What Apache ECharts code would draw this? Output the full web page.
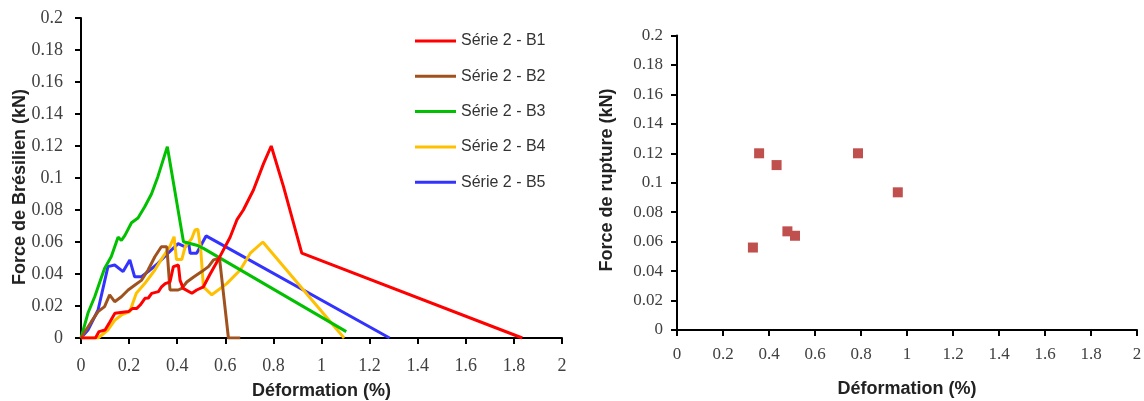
<!DOCTYPE html>
<html>
<head>
<meta charset="utf-8">
<script src="https://cdn.jsdelivr.net/npm/echarts@6/dist/echarts.min.js"></script>
<style>
html,body{margin:0;padding:0;background:#fff;}
#chart{width:1144px;height:401px;}
</style>
</head>
<body>
<div id="chart"></div>
<script>
// ---- Data ----
const seriesNames = ['Série 2 - B1','Série 2 - B2','Série 2 - B3','Série 2 - B4','Série 2 - B5'];
const b1X = [0,0.06,0.075,0.1,0.12,0.141,0.197,0.215,0.232,0.246,0.266,0.28,0.294,0.322,0.335,0.35,0.37,0.384,0.405,0.412,0.425,0.433,0.461,0.481,0.509,0.537,0.578,0.62,0.648,0.675,0.717,0.759,0.791,0.842,0.918,1.835];
const b1Y = [0,0,0.004,0.005,0.01,0.0154,0.0165,0.0185,0.0185,0.0206,0.0248,0.025,0.0279,0.029,0.032,0.034,0.035,0.0446,0.0456,0.036,0.031,0.03,0.028,0.03,0.032,0.04,0.051,0.063,0.0738,0.08,0.0925,0.109,0.12,0.0946,0.053,0];
const b2X = [0,0.043,0.071,0.098,0.119,0.14,0.168,0.196,0.223,0.251,0.279,0.307,0.334,0.357,0.37,0.404,0.419,0.44,0.467,0.502,0.53,0.551,0.576,0.613,0.662];
const b2Y = [0,0.0102,0.0165,0.0196,0.0269,0.0227,0.0258,0.03,0.033,0.036,0.0425,0.0508,0.057,0.057,0.03,0.03,0.031,0.035,0.038,0.0415,0.0446,0.0488,0.0498,0,0];
const b3X = [0,0.029,0.057,0.085,0.098,0.126,0.154,0.168,0.182,0.21,0.237,0.265,0.293,0.32,0.359,0.426,0.481,0.509,1.103];
const b3Y = [0,0.0156,0.0258,0.038,0.0435,0.051,0.063,0.061,0.064,0.072,0.075,0.082,0.09,0.101,0.1196,0.0602,0.058,0.056,0.004];
const b4X = [0,0.071,0.112,0.14,0.168,0.203,0.23,0.265,0.307,0.341,0.369,0.387,0.397,0.419,0.433,0.46,0.474,0.486,0.498,0.509,0.544,0.606,0.662,0.704,0.756,1.094];
const b4Y = [0,0,0.005,0.011,0.0144,0.0165,0.028,0.034,0.0425,0.0508,0.057,0.0633,0.049,0.049,0.057,0.062,0.0675,0.068,0.055,0.032,0.027,0.034,0.0425,0.053,0.06,0];
const b5X = [0,0.029,0.071,0.112,0.14,0.175,0.203,0.223,0.251,0.279,0.32,0.362,0.404,0.412,0.433,0.447,0.454,0.481,0.52,1.283];
const b5Y = [0,0.005,0.0175,0.0446,0.0456,0.0415,0.0488,0.0383,0.0383,0.0415,0.0467,0.053,0.059,0.0602,0.057,0.06,0.053,0.053,0.0638,0];
const ruptureX = [0.33,0.357,0.433,0.48,0.513,0.787,0.96];
const ruptureY = [0.056,0.12,0.112,0.067,0.064,0.12,0.0935];
const xTitle = 'Déformation (%)';
const yTitleLeft = 'Force de Brésilien (kN)';
const yTitleRight = 'Force de rupture (kN)';

const colors = ['#FF0000','#A0521E','#00C000','#FFC000','#3333FF'];
const seriesX = [b1X,b2X,b3X,b4X,b5X];
const seriesY = [b1Y,b2Y,b3Y,b4Y,b5Y];
const zip = (xs, ys) => xs.map((x, i) => [x, ys[i]]);

const tickFont = 'Liberation Serif';
const axisCommon = (fontSize, margin) => ({
  axisLine: {show: true, onZero: false, lineStyle: {color: '#000', width: 2}},
  axisTick: {show: true, length: 6, inside: false, lineStyle: {color: '#000', width: 2}},
  splitLine: {show: false},
  axisLabel: {fontFamily: tickFont, fontSize: fontSize, color: '#404040', margin: margin}
});

const chart = echarts.init(document.getElementById('chart'), null, {renderer: 'canvas'});
const lineSeries = seriesNames.map((name, i) => ({
  name: name,
  type: 'line',
  xAxisIndex: 0, yAxisIndex: 0,
  data: zip(seriesX[i], seriesY[i]),
  symbol: 'none',
  lineStyle: {color: colors[i], width: 3},
  itemStyle: {color: colors[i]},
  z: 5 - i
}));

chart.setOption({
  animation: false,
  backgroundColor: '#fff',
  grid: [
    {left: 81, top: 18, width: 481, height: 320, containLabel: false, outerBoundsMode: 'none'},
    {left: 677, top: 35.5, width: 460, height: 294.5, containLabel: false, outerBoundsMode: 'none'}
  ],
  legend: {
    data: seriesNames,
    orient: 'vertical',
    left: 410, top: 26,
    icon: 'rect',
    itemWidth: 41, itemHeight: 3,
    itemGap: 15.3,
    textStyle: {fontFamily: 'Liberation Sans', fontSize: 16, color: '#333', lineHeight: 20}
  },
  xAxis: [
    Object.assign({type: 'value', gridIndex: 0, min: 0, max: 2, interval: 0.2,
      name: xTitle, nameLocation: 'middle', nameGap: 44,
      nameTextStyle: {fontFamily: 'Liberation Sans', fontWeight: 'bold', fontSize: 18, color: '#222'}},
      axisCommon(18, 19)),
    Object.assign({type: 'value', gridIndex: 1, min: 0, max: 2, interval: 0.2,
      name: xTitle, nameLocation: 'middle', nameGap: 50,
      nameTextStyle: {fontFamily: 'Liberation Sans', fontWeight: 'bold', fontSize: 18, color: '#222'}},
      axisCommon(17, 16))
  ],
  yAxis: [
    Object.assign({type: 'value', gridIndex: 0, min: 0, max: 0.2, interval: 0.02}, axisCommon(18, 18)),
    Object.assign({type: 'value', gridIndex: 1, min: 0, max: 0.2, interval: 0.02}, axisCommon(17, 14))
  ],
  graphic: [
    {type: 'text', x: 20, y: 187, rotation: Math.PI / 2,
      style: {text: yTitleLeft, align: 'center', verticalAlign: 'middle',
        font: 'bold 18px "Liberation Sans"', fill: '#222'}},
    {type: 'text', x: 607, y: 180, rotation: Math.PI / 2,
      style: {text: yTitleRight, align: 'center', verticalAlign: 'middle',
        font: 'bold 18px "Liberation Sans"', fill: '#222'}}
  ],
  series: lineSeries.concat([{
    name: 'rupture',
    type: 'scatter',
    xAxisIndex: 1, yAxisIndex: 1,
    data: zip(ruptureX, ruptureY),
    symbol: 'rect',
    symbolSize: 10,
    itemStyle: {color: '#C0504D', opacity: 1}
  }])
});
</script>
</body>
</html>
